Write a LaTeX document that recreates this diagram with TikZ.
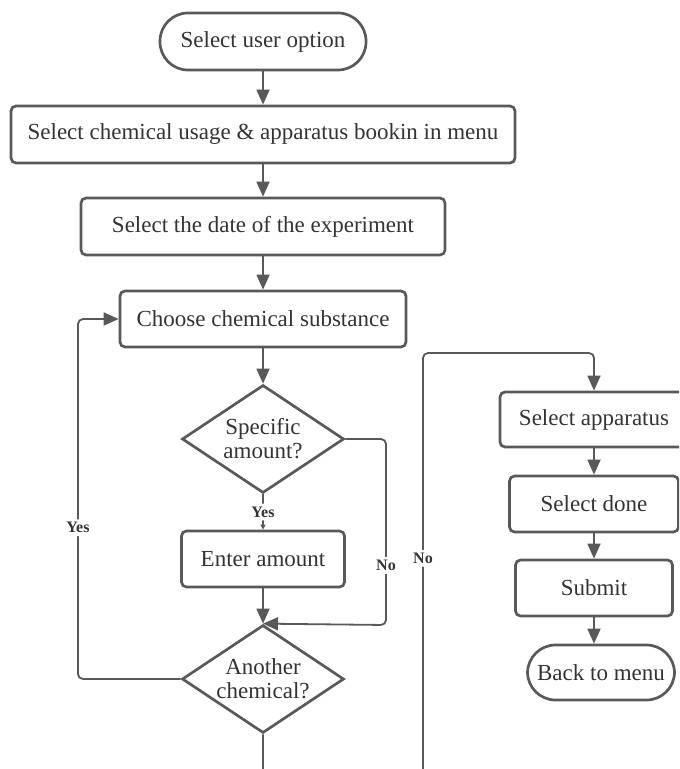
\documentclass[tikz,border=0pt]{standalone}
\usepackage{fontspec}
\setmainfont{Liberation Serif}
\usetikzlibrary{shapes.geometric,arrows.meta}
\definecolor{linegray}{HTML}{595959}
\definecolor{textgray}{HTML}{333333}

\begin{document}
\begin{tikzpicture}[x=0.5pt,y=-0.5pt,
    terminal/.style ={draw=linegray, line width=1.35pt, rectangle, rounded corners=14pt, minimum height=28.5pt, inner sep=0pt, text=textgray, font=\fontsize{11.5}{12}\selectfont},
    process/.style ={draw=linegray, line width=1.35pt, rectangle, rounded corners=2.5pt, minimum height=28.5pt, inner sep=0pt, text=textgray, font=\fontsize{11.5}{12}\selectfont},
    decision/.style ={draw=linegray, line width=1.35pt, diamond, aspect=1.5, minimum width=81pt, minimum height=54pt, inner sep=0pt, align=center, text=textgray, font=\fontsize{11.5}{12}\selectfont},
    flowline/.style ={draw=linegray, line width=0.9pt, rounded corners=2.5pt, -{Triangle[length=7.5pt,width=6.5pt]}},
    answer/.style ={fill=white, inner sep=1.5pt, text=textgray, font=\fontsize{8}{9}\selectfont\bfseries}]
   \useasboundingbox (0,0) rectangle (679,769);
   \clip (0,0) rectangle (679,769);

   \node[terminal, minimum width=103pt] (start) at (263,41.5) {Select user option};
   \node[process, minimum width=252pt] (menu) at (263,134.5) {Select chemical usage \& apparatus bookin in menu};
   \node[process, minimum width=182pt] (date) at (263,226.5) {Select the date of the experiment};
   \node[process, minimum width=143pt, minimum height=28pt] (choose) at (263,319) {Choose chemical substance};
   \node[decision] (amount) at (263,439) {Specific\\amount?};
   \node[process, minimum width=81.5pt, minimum height=28pt] (enter) at (263,559) {Enter amount};
   \node[decision] (another) at (263,679) {Another\\chemical?};

   \node[process, minimum width=94pt, minimum height=27.5pt] (apparatus) at (594,419.5) {Select apparatus};
   \node[process, minimum width=84.5pt, minimum height=28pt] (done) at (594,504) {Select done};
   \node[process, minimum width=78.5pt, minimum height=28pt] (submit) at (594,588) {Submit};
   \node[terminal, minimum width=73.5pt, minimum height=27.5pt] (back) at (601,672.5) {Back to menu};

   \coordinate (nobend) at (386,625);
   \coordinate (yesbend) at (78,319);
   \coordinate (low) at (263,790);
   \coordinate (lowright) at (423,790);
   \coordinate (upright) at (423,353);

   \draw[flowline] (start.south) -- (menu.north);
   \draw[flowline] (menu.south) -- (date.north);
   \draw[flowline] (date.south) -- (choose.north);
   \draw[flowline] (choose.south) -- (amount.north);
   \draw[flowline, -{Triangle[length=2.5pt,width=2.5pt]}] (amount.south) -- node[answer] {Yes} (enter.north);
   \draw[flowline] (enter.south) -- (another.north);
   \draw[flowline] (amount.east) -| node[answer, pos=0.84] {No} (nobend) -- (another.north);
   \draw[flowline] (another.west) -| node[answer, pos=0.71] {Yes} (yesbend) -- (choose.west);
   \draw[flowline] (another.south) -- (low) -- (lowright) -- node[answer, pos=0.53] {No} (upright) -| (apparatus.north);
   \draw[flowline] (apparatus.south) -- (done.north);
   \draw[flowline] (done.south) -- (submit.north);
   \draw[flowline] (submit.south) -- (submit.south |- back.north);
\end{tikzpicture}
\end{document}
